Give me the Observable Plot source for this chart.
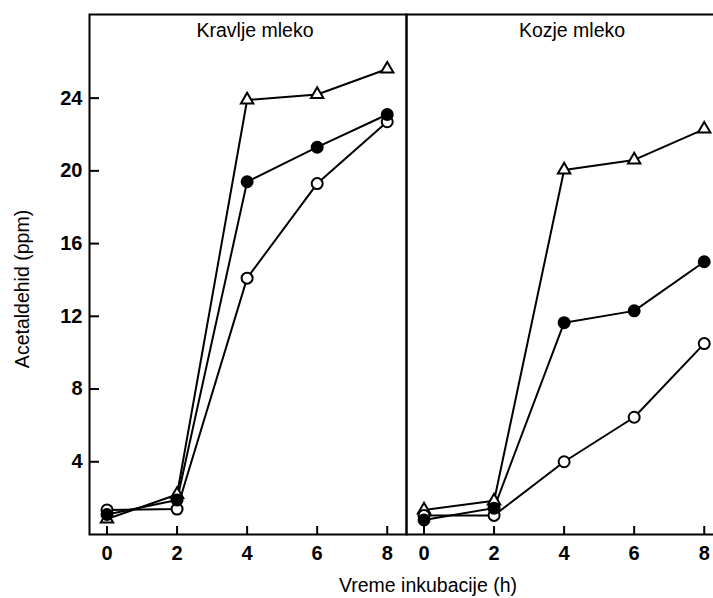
<!DOCTYPE html>
<html><head><meta charset="utf-8">
<script src="https://cdn.jsdelivr.net/npm/d3@7"></script>
<script src="https://cdn.jsdelivr.net/npm/@observablehq/plot@0.6"></script>
<style>
html,body{margin:0;padding:0;background:#fff;overflow:hidden;}
#chart svg{max-width:none !important;}
</style></head><body><div id="chart"></div>
<script>
const panels = ["Kravlje mleko", "Kozje mleko"];
const hours = [0, 2, 4, 6, 8];
const kravljeTriangle = [0.85, 2.2, 23.9, 24.2, 25.6];
const kravljeFilled = [1.1, 1.9, 19.4, 21.3, 23.1];
const kravljeOpen = [1.35, 1.4, 14.1, 19.3, 22.7];
const kozjeTriangle = [1.35, 1.85, 20.05, 20.6, 22.3];
const kozjeFilled = [0.8, 1.45, 11.65, 12.3, 15.0];
const kozjeOpen = [1.05, 1.05, 4.0, 6.45, 10.5];
const yTicks = [4, 8, 12, 16, 20, 24];
const xTicks = [0, 2, 4, 6, 8];
const xLabel = "Vreme inkubacije (h)";
const yLabel = "Acetaldehid (ppm)";

const seriesByPanel = [
  {panel: panels[0], triangle: kravljeTriangle, filled: kravljeFilled, open: kravljeOpen},
  {panel: panels[1], triangle: kozjeTriangle, filled: kozjeFilled, open: kozjeOpen}
];
const rows = [];
for (const s of seriesByPanel) {
  for (const key of ["triangle", "filled", "open"]) {
    s[key].forEach((v, i) => rows.push({panel: s.panel, series: key, x: hours[i], y: v}));
  }
}
const titles = panels.map(p => ({panel: p, label: p}));

const plot = Plot.plot({
  width: 723,
  height: 598,
  marginTop: 14,
  marginBottom: 64,
  marginLeft: 89,
  marginRight: 0,
  style: {fontFamily: "'Liberation Sans', Arial, sans-serif", fontSize: "18px", color: "black", background: "white", maxWidth: "none"},
  fx: {domain: panels, padding: 0, axis: null},
  x: {domain: [-0.5, 8.55]},
  y: {domain: [0, 28.6]},
  marks: [
    Plot.frame({stroke: "black", strokeWidth: 2}),
    Plot.axisX(xTicks, {anchor: "bottom", tickSize: -8, tickPadding: 19, strokeWidth: 2, label: null, fontWeight: "bold", fontSize: 20}),
    Plot.axisY(yTicks, {anchor: "left", tickSize: -10, tickPadding: 17, strokeWidth: 2, label: null, fontWeight: "bold", fontSize: 20}),
    Plot.axisY(yTicks, {anchor: "right", tickSize: -8, tickFormat: () => "", strokeWidth: 2, label: null}),
    Plot.text(titles, {fx: "panel", text: "label", frameAnchor: "top", lineAnchor: "middle", dy: 16, dx: 7, fontSize: 19.5, fill: "black"}),
    Plot.line(rows, {fx: "panel", x: "x", y: "y", z: "series", stroke: "black", strokeWidth: 2}),
    Plot.dot(rows.filter(d => d.series === "triangle"), {fx: "panel", x: "x", y: "y", symbol: "triangle", r: 4.6, fill: "white", stroke: "black", strokeWidth: 2}),
    Plot.dot(rows.filter(d => d.series === "open"), {fx: "panel", x: "x", y: "y", symbol: "circle", r: 5.5, fill: "white", stroke: "black", strokeWidth: 2}),
    Plot.dot(rows.filter(d => d.series === "filled"), {fx: "panel", x: "x", y: "y", symbol: "circle", r: 5.5, fill: "black", stroke: "black", strokeWidth: 2})
  ]
});
plot.style.maxWidth = "none";

const svg = d3.select(plot);
svg.append("text")
  .attr("x", 428).attr("y", 592)
  .attr("text-anchor", "middle")
  .attr("font-size", 19.5)
  .attr("fill", "black")
  .text(xLabel);
svg.append("text")
  .attr("transform", "translate(29,289) rotate(-90)")
  .attr("text-anchor", "middle")
  .attr("font-size", 19.5)
  .attr("fill", "black")
  .text(yLabel);

document.getElementById("chart").appendChild(plot);
</script></body></html>
